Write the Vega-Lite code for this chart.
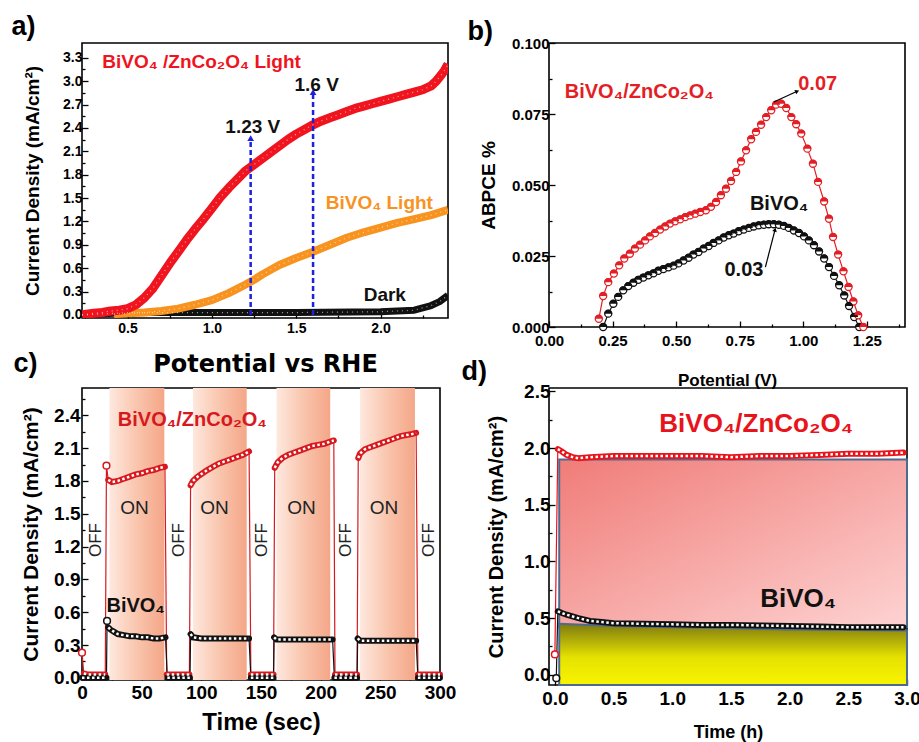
{
"$schema":"https://vega.github.io/schema/vega-lite/v6.json",
"padding":{"left":10,"top":12,"right":5,"bottom":5},
"background":"white",
"config":{
 "view":{"stroke":"black","strokeWidth":1.6},
 "font":"Liberation Sans",
 "axis":{"domain":false,"grid":false,"labelFont":"Liberation Sans","labelFontWeight":"bold","labelColor":"black","titleFont":"Liberation Sans","titleFontWeight":"bold","titleColor":"black","tickColor":"black","tickWidth":1.3,"labelFlush":false,"labelOverlap":false,"labelBound":false},
 "title":{"fontSize":27,"fontWeight":"bold","anchor":"start","frame":"bounds","color":"black","font":"Liberation Sans"}
},
"columns":2,
"spacing":{"row":61,"column":101},
"bounds":"flush",
"resolve":{"scale":{"color":"independent","stroke":"independent","strokeWidth":"independent"}},
"concat":[
{
"width":366,"height":275,
"title":{"text":"a)","offset":2,"dx":-12},
"layer":[
 {"data":{"name":"aCurves"},"mark":{"type":"line","clip":true,"strokeCap":"butt","strokeJoin":"round"},
  "encoding":{
   "x":{"field":"x","type":"quantitative","scale":{"domain":[0.23,2.4],"nice":false,"zero":false},
     "axis":{"title":"Potential vs RHE","titleFont":"DejaVu Sans","titleFontSize":24,"titlePadding":14,"labelFontSize":14,"labelPadding":9,"labelOverlap":false,"tickCount":100,
       "values":[0.25,0.5,0.75,1,1.25,1.5,1.75,2,2.25],
       "labelExpr":"round(datum.value*100)%50==0 ? format(datum.value,'.1f') : ''",
       "tickSize":{"condition":{"test":"round(datum.value*100)%50==0","value":-6},"value":-3}}},
   "y":{"field":"y","type":"quantitative","scale":{"domain":[-0.04,3.49],"nice":false,"zero":false},
     "axis":{"title":"Current Density (mA/cm²)","titleFontSize":19,"titlePadding":20,"labelFontSize":14,"labelPadding":6,"labelOverlap":false,"tickCount":100,
       "values":[0,0.15,0.3,0.45,0.6,0.75,0.9,1.05,1.2,1.35,1.5,1.65,1.8,1.95,2.1,2.25,2.4,2.55,2.7,2.85,3,3.15,3.3],
       "labelExpr":"abs(datum.value/0.3 - round(datum.value/0.3)) < 0.01 ? format(datum.value,'.1f') : ''",
       "tickSize":{"condition":{"test":"abs(datum.value/0.3 - round(datum.value/0.3)) < 0.01","value":-6},"value":-3}}},
   "color":{"field":"s","type":"nominal","scale":{"domain":["hetero","bivo","dark","ann"],"range":["#f0141e","#f7931e","#111111","#111111"]},"legend":null},
   "strokeWidth":{"field":"s","type":"nominal","scale":{"domain":["hetero","bivo","dark"],"range":[9,7,6]},"legend":null}
  }},
 {"data":{"name":"aCurves"},"mark":{"type":"line","clip":true,"color":"white","strokeWidth":1.2,"strokeDash":[1,4],"opacity":0.6},
  "encoding":{"x":{"field":"x","type":"quantitative"},"y":{"field":"y","type":"quantitative"},"detail":{"field":"s"}}},
 {"data":{"name":"aArrows"},"mark":{"type":"rule","color":"#1f1fe0","strokeWidth":2.5,"strokeDash":[5,3]},
  "encoding":{"x":{"field":"x","type":"quantitative"},"y":{"field":"y","type":"quantitative"},"y2":{"field":"y2"}}},
 {"data":{"name":"aArrows"},"mark":{"type":"point","shape":"triangle-up","filled":true,"color":"#1f1fe0","size":45,"opacity":1},
  "encoding":{"x":{"field":"x","type":"quantitative"},"y":{"field":"y2","type":"quantitative"}}},
 {"data":{"name":"aText"},"mark":{"type":"text","align":"left","baseline":"middle","fontSize":19,"fontWeight":"bold"},
  "encoding":{"x":{"field":"x","type":"quantitative"},"y":{"field":"y","type":"quantitative"},"text":{"field":"t"},"color":{"field":"s","type":"nominal"}}}
]
},
{
"width":356,"height":284,
"title":{"text":"b)","offset":-10,"dx":-12},
"layer":[
 {"data":{"name":"bCurves"},"mark":{"type":"line","strokeWidth":1.2},
  "encoding":{
   "x":{"field":"x","type":"quantitative","scale":{"domain":[0,1.4],"nice":false,"zero":false},
     "axis":{"title":"Potential (V)","titleFontSize":17,"titlePadding":21,"labelFontSize":15,"labelPadding":12,"labelOverlap":false,"tickCount":100,
       "values":[0,0.125,0.25,0.375,0.5,0.625,0.75,0.875,1,1.125,1.25,1.375],
       "labelExpr":"round(datum.value*1000)%250==0 ? format(datum.value,'.2f') : ''",
       "tickSize":{"condition":{"test":"round(datum.value*1000)%250==0","value":-6},"value":-3}}},
   "y":{"field":"y","type":"quantitative","scale":{"domain":[0,0.1],"nice":false,"zero":false},
     "axis":{"title":"ABPCE %","titleFontSize":19,"titlePadding":13,"labelFontSize":15,"labelPadding":6,"labelOverlap":false,"tickCount":100,
       "values":[0,0.0125,0.025,0.0375,0.05,0.0625,0.075,0.0875,0.1],
       "labelExpr":"round(datum.value*10000)%250==0 ? format(datum.value,'.3f') : ''",
       "tickSize":{"condition":{"test":"round(datum.value*10000)%250==0","value":-6},"value":-3}}},
   "color":{"field":"s","type":"nominal","scale":{"domain":["hetero","bivo"],"range":["#e31e24","#111111"]},"legend":null}
  }},
 {"data":{"name":"bCurves"},"mark":{"type":"point","shape":"circle","filled":true,"fill":"white","size":50,"strokeWidth":1.3,"opacity":1},
  "encoding":{"x":{"field":"x","type":"quantitative"},"y":{"field":"y","type":"quantitative"},
   "stroke":{"field":"s","type":"nominal","scale":{"domain":["hetero","bivo"],"range":["#e31e24","#111111"]},"legend":null}}},
 {"data":{"name":"bCurves"},"mark":{"type":"point","shape":"M -1.13 0 A 1.13 1.13 0 0 1 1.13 0 Z","filled":true,"size":50,"opacity":1},
  "encoding":{"x":{"field":"x","type":"quantitative"},"y":{"field":"y","type":"quantitative"},"color":{"field":"s","type":"nominal"}}},
 {"data":{"name":"bArrows"},"mark":{"type":"rule","color":"black","strokeWidth":1.2},
  "encoding":{"x":{"field":"x","type":"quantitative"},"y":{"field":"y","type":"quantitative"},"x2":{"field":"x2"},"y2":{"field":"y2"}}},
 {"data":{"name":"bArrows"},"transform":[{"filter":"datum.lab=='0.07'"}],"mark":{"type":"point","shape":"triangle-up","filled":true,"color":"black","size":22,"angle":67,"opacity":1},
  "encoding":{"x":{"field":"x2","type":"quantitative"},"y":{"field":"y2","type":"quantitative"}}},
 {"data":{"name":"bArrows"},"transform":[{"filter":"datum.lab=='0.03'"}],"mark":{"type":"point","shape":"triangle-up","filled":true,"color":"black","size":22,"angle":15,"opacity":1},
  "encoding":{"x":{"field":"x2","type":"quantitative"},"y":{"field":"y2","type":"quantitative"}}},
 {"data":{"name":"bText"},"mark":{"type":"text","align":"left","baseline":"middle","fontSize":20,"fontWeight":"bold"},
  "encoding":{"x":{"field":"x","type":"quantitative"},"y":{"field":"y","type":"quantitative"},"text":{"field":"t"},"color":{"field":"s","type":"nominal"}}}
]
},
{
"width":358,"height":292,
"title":{"text":"c)","offset":10,"dx":-7},
"layer":[
 {"data":{"name":"cOn"},"mark":{"type":"rect","fill":{"gradient":"linear","x1":0,"y1":0,"x2":1,"y2":0,"stops":[{"offset":0,"color":"#fee8de"},{"offset":0.5,"color":"#f9c5ad"},{"offset":1,"color":"#f4a688"}]}},
  "encoding":{"x":{"field":"t0","type":"quantitative","scale":{"domain":[0,300],"nice":false,"zero":false},
     "axis":{"title":"Time (sec)","titleFontSize":24,"titlePadding":5,"labelFontSize":19,"labelPadding":9,"labelOverlap":false,"tickCount":100,
       "values":[0,25,50,75,100,125,150,175,200,225,250,275,300],
       "labelExpr":"datum.value%50==0 ? format(datum.value,'d') : ''",
       "tickSize":{"condition":{"test":"datum.value%50==0","value":-6},"value":-3}}},
   "x2":{"field":"t1"}}},
 {"data":{"name":"cCurves"},"mark":{"type":"line","strokeWidth":1.2},
  "encoding":{"x":{"field":"t","type":"quantitative"},
   "y":{"field":"y","type":"quantitative","scale":{"domain":[-0.02,2.65],"nice":false,"zero":false},
     "axis":{"title":"Current Density (mA/cm²)","titleFontSize":21,"titlePadding":12,"labelFontSize":19,"labelPadding":8,"labelOverlap":false,"tickCount":100,
       "values":[0,0.15,0.3,0.45,0.6,0.75,0.9,1.05,1.2,1.35,1.5,1.65,1.8,1.95,2.1,2.25,2.4,2.55],
       "labelExpr":"abs(datum.value/0.3 - round(datum.value/0.3)) < 0.01 ? format(datum.value,'.1f') : ''",
       "tickSize":{"condition":{"test":"abs(datum.value/0.3 - round(datum.value/0.3)) < 0.01","value":-6},"value":-3}}},
   "color":{"field":"s","type":"nominal","scale":{"domain":["hetero","bivo"],"range":["#d7191f","#111111"]},"legend":null}}},
 {"data":{"name":"cCurves"},"mark":{"type":"line","strokeWidth":6,"strokeCap":"round"},
  "encoding":{"x":{"field":"t","type":"quantitative"},"y":{"field":"y","type":"quantitative"},"color":{"field":"s","type":"nominal"},"detail":{"field":"seg"}}},
 {"data":{"name":"cCurves"},"mark":{"type":"line","strokeWidth":2.5,"color":"white","strokeDash":[2.5,2.5]},
  "encoding":{"x":{"field":"t","type":"quantitative"},"y":{"field":"y","type":"quantitative"},"detail":[{"field":"s"},{"field":"seg"}]}},
 {"data":{"name":"cCurves"},"transform":[{"filter":"indexof(datum.seg,'x')==0"}],"mark":{"type":"point","shape":"circle","filled":true,"fill":"white","size":45,"strokeWidth":1.5,"opacity":1},
  "encoding":{"x":{"field":"t","type":"quantitative"},"y":{"field":"y","type":"quantitative"},"stroke":{"field":"s","type":"nominal","scale":{"domain":["hetero","bivo"],"range":["#d7191f","#111111"]},"legend":null}}},
 {"data":{"name":"cOnText"},"mark":{"type":"text","align":"center","baseline":"middle","fontSize":19,"color":"#222222"},
  "encoding":{"x":{"field":"x","type":"quantitative"},"y":{"field":"y","type":"quantitative"},"text":{"field":"t"}}},
 {"data":{"name":"cOffText"},"mark":{"type":"text","align":"center","baseline":"middle","fontSize":17,"angle":270,"color":"#222222"},
  "encoding":{"x":{"field":"x","type":"quantitative"},"y":{"field":"y","type":"quantitative"},"text":{"field":"t"}}},
 {"data":{"name":"cLab"},"mark":{"type":"text","align":"left","baseline":"middle","fontSize":20,"fontWeight":"bold"},
  "encoding":{"x":{"field":"x","type":"quantitative"},"y":{"field":"y","type":"quantitative"},"text":{"field":"t"},"color":{"field":"s","type":"nominal"}}}
]
},
{
"width":358,"height":297,
"title":{"text":"d)","offset":-4,"dx":-25},
"layer":[
 {"data":{"name":"dRect"},"mark":{"type":"rect","stroke":"#4d6a90","strokeWidth":2,"fill":{"gradient":"linear","x1":0,"y1":0,"x2":1,"y2":1,"stops":[{"offset":0,"color":"#f07c78"},{"offset":1,"color":"#fdd3d2"}]}},
  "encoding":{"x":{"field":"x","type":"quantitative","scale":{"domain":[-0.05,3.0],"nice":false,"zero":false},
     "axis":{"title":"Time (h)","titleFontSize":18,"titlePadding":12,"labelFontSize":19,"labelPadding":10,"labelOverlap":false,"tickCount":100,
       "values":[0,0.25,0.5,0.75,1,1.25,1.5,1.75,2,2.25,2.5,2.75,3],
       "labelExpr":"round(datum.value*100)%50==0 ? format(datum.value,'.1f') : ''",
       "tickSize":{"condition":{"test":"round(datum.value*100)%50==0","value":-6},"value":-3}}},
   "x2":{"field":"x2"},
   "y":{"field":"y","type":"quantitative","scale":{"domain":[-0.09,2.53],"nice":false,"zero":false},
     "axis":{"title":"Current Density (mA/cm²)","titleFontSize":20,"titlePadding":17,"labelFontSize":19,"labelPadding":5,"labelOverlap":false,"tickCount":100,
       "values":[0,0.25,0.5,0.75,1,1.25,1.5,1.75,2,2.25,2.5],
       "labelExpr":"round(datum.value*100)%50==0 ? format(datum.value,'.1f') : ''",
       "tickSize":{"condition":{"test":"round(datum.value*100)%50==0","value":-6},"value":-3}}},
   "y2":{"field":"y2"}}},
 {"data":{"name":"dYellow"},"mark":{"type":"area","stroke":"#4d6a90","strokeWidth":2,"fill":{"gradient":"linear","x1":0,"y1":0,"x2":0,"y2":1,"stops":[{"offset":0,"color":"#7f7a10"},{"offset":0.55,"color":"#e6e200"},{"offset":1,"color":"#f8f400"}]}},
  "encoding":{"x":{"field":"x","type":"quantitative"},"y":{"field":"y","type":"quantitative"},"y2":{"datum":-0.09}}},
 {"data":{"name":"dCurves"},"mark":{"type":"line","strokeWidth":1.2},
  "encoding":{"x":{"field":"x","type":"quantitative"},"y":{"field":"y","type":"quantitative"},
   "color":{"field":"s","type":"nominal","scale":{"domain":["hetero","bivo"],"range":["#e8141b","#111111"]},"legend":null}}},
 {"data":{"name":"dCurves"},"mark":{"type":"line","strokeWidth":6,"strokeCap":"round"},
  "encoding":{"x":{"field":"x","type":"quantitative"},"y":{"field":"y","type":"quantitative"},"color":{"field":"s","type":"nominal"},"detail":{"field":"seg"}}},
 {"data":{"name":"dCurves"},"mark":{"type":"line","strokeWidth":2.5,"color":"white","strokeDash":[2.5,2.5]},
  "encoding":{"x":{"field":"x","type":"quantitative"},"y":{"field":"y","type":"quantitative"},"detail":[{"field":"s"},{"field":"seg"}]}},
 {"data":{"name":"dCurves"},"transform":[{"filter":"datum.seg=='x'"}],"mark":{"type":"point","shape":"circle","filled":true,"fill":"white","size":45,"strokeWidth":1.5,"opacity":1},
  "encoding":{"x":{"field":"x","type":"quantitative"},"y":{"field":"y","type":"quantitative"},"stroke":{"field":"s","type":"nominal","scale":{"domain":["hetero","bivo"],"range":["#e8141b","#111111"]},"legend":null}}},
 {"data":{"name":"dLab"},"mark":{"type":"text","align":"left","baseline":"middle","fontSize":26,"fontWeight":"bold"},
  "encoding":{"x":{"field":"x","type":"quantitative"},"y":{"field":"y","type":"quantitative"},"text":{"field":"t"},"color":{"field":"s","type":"nominal"}}}
]
}
],
"datasets":{
"aCurves":[
{"x":0.23,"y":0.0,"s":"dark"},{"x":0.5,"y":0.03,"s":"dark"},{"x":1.0,"y":0.03,"s":"dark"},{"x":1.5,"y":0.03,"s":"dark"},{"x":2.0,"y":0.04,"s":"dark"},{"x":2.2,"y":0.06,"s":"dark"},{"x":2.3,"y":0.12,"s":"dark"},{"x":2.35,"y":0.17,"s":"dark"},{"x":2.4,"y":0.25,"s":"dark"},
{"x":0.42,"y":0.01,"s":"bivo"},{"x":0.5,"y":0.02,"s":"bivo"},{"x":0.6,"y":0.03,"s":"bivo"},{"x":0.7,"y":0.05,"s":"bivo"},{"x":0.8,"y":0.08,"s":"bivo"},{"x":0.9,"y":0.13,"s":"bivo"},{"x":1.0,"y":0.19,"s":"bivo"},{"x":1.1,"y":0.28,"s":"bivo"},{"x":1.2,"y":0.39,"s":"bivo"},{"x":1.25,"y":0.45,"s":"bivo"},{"x":1.3,"y":0.52,"s":"bivo"},{"x":1.4,"y":0.64,"s":"bivo"},{"x":1.5,"y":0.73,"s":"bivo"},{"x":1.6,"y":0.81,"s":"bivo"},{"x":1.7,"y":0.9,"s":"bivo"},{"x":1.8,"y":0.99,"s":"bivo"},{"x":1.9,"y":1.06,"s":"bivo"},{"x":2.0,"y":1.12,"s":"bivo"},{"x":2.1,"y":1.18,"s":"bivo"},{"x":2.2,"y":1.23,"s":"bivo"},{"x":2.3,"y":1.28,"s":"bivo"},{"x":2.4,"y":1.35,"s":"bivo"},
{"x":0.23,"y":0.0,"s":"hetero"},{"x":0.3,"y":0.02,"s":"hetero"},{"x":0.35,"y":0.03,"s":"hetero"},{"x":0.4,"y":0.05,"s":"hetero"},{"x":0.45,"y":0.06,"s":"hetero"},{"x":0.5,"y":0.08,"s":"hetero"},{"x":0.55,"y":0.13,"s":"hetero"},{"x":0.6,"y":0.22,"s":"hetero"},{"x":0.65,"y":0.34,"s":"hetero"},{"x":0.7,"y":0.5,"s":"hetero"},{"x":0.75,"y":0.66,"s":"hetero"},{"x":0.8,"y":0.81,"s":"hetero"},{"x":0.85,"y":0.96,"s":"hetero"},{"x":0.9,"y":1.1,"s":"hetero"},{"x":0.95,"y":1.23,"s":"hetero"},{"x":1.0,"y":1.37,"s":"hetero"},{"x":1.05,"y":1.51,"s":"hetero"},{"x":1.1,"y":1.63,"s":"hetero"},{"x":1.15,"y":1.74,"s":"hetero"},{"x":1.2,"y":1.85,"s":"hetero"},{"x":1.25,"y":1.93,"s":"hetero"},{"x":1.3,"y":2.01,"s":"hetero"},{"x":1.35,"y":2.09,"s":"hetero"},{"x":1.4,"y":2.17,"s":"hetero"},{"x":1.45,"y":2.25,"s":"hetero"},{"x":1.5,"y":2.32,"s":"hetero"},{"x":1.55,"y":2.38,"s":"hetero"},{"x":1.6,"y":2.44,"s":"hetero"},{"x":1.65,"y":2.49,"s":"hetero"},{"x":1.7,"y":2.53,"s":"hetero"},{"x":1.75,"y":2.57,"s":"hetero"},{"x":1.8,"y":2.61,"s":"hetero"},{"x":1.85,"y":2.65,"s":"hetero"},{"x":1.9,"y":2.68,"s":"hetero"},{"x":1.95,"y":2.71,"s":"hetero"},{"x":2.0,"y":2.74,"s":"hetero"},{"x":2.05,"y":2.77,"s":"hetero"},{"x":2.1,"y":2.8,"s":"hetero"},{"x":2.15,"y":2.83,"s":"hetero"},{"x":2.2,"y":2.86,"s":"hetero"},{"x":2.25,"y":2.89,"s":"hetero"},{"x":2.3,"y":2.94,"s":"hetero"},{"x":2.33,"y":3.0,"s":"hetero"},{"x":2.36,"y":3.08,"s":"hetero"},{"x":2.38,"y":3.14,"s":"hetero"},{"x":2.4,"y":3.22,"s":"hetero"}
],
"aArrows":[{"x":1.23,"y":0,"y2":2.27},{"x":1.6,"y":0,"y2":2.86}],
"aText":[
{"x":0.35,"y":3.25,"t":"BiVO₄ /ZnCo₂O₄ Light","s":"hetero"},
{"x":1.675,"y":1.44,"t":"BiVO₄ Light","s":"bivo"},
{"x":1.9,"y":0.25,"t":"Dark","s":"dark"},
{"x":1.08,"y":2.41,"t":"1.23 V","s":"ann"},
{"x":1.49,"y":2.95,"t":"1.6 V","s":"ann"}
],
"bCurves":[
{"x":0.213,"y":0.0,"s":"bivo"},{"x":0.233,"y":0.0047,"s":"bivo"},{"x":0.253,"y":0.0082,"s":"bivo"},{"x":0.272,"y":0.0106,"s":"bivo"},{"x":0.292,"y":0.0129,"s":"bivo"},{"x":0.312,"y":0.0144,"s":"bivo"},{"x":0.332,"y":0.0156,"s":"bivo"},{"x":0.351,"y":0.0166,"s":"bivo"},{"x":0.371,"y":0.0174,"s":"bivo"},{"x":0.391,"y":0.0182,"s":"bivo"},{"x":0.411,"y":0.0189,"s":"bivo"},{"x":0.43,"y":0.0198,"s":"bivo"},{"x":0.45,"y":0.0204,"s":"bivo"},{"x":0.47,"y":0.021,"s":"bivo"},{"x":0.49,"y":0.0216,"s":"bivo"},{"x":0.509,"y":0.0224,"s":"bivo"},{"x":0.529,"y":0.0234,"s":"bivo"},{"x":0.549,"y":0.0244,"s":"bivo"},{"x":0.568,"y":0.0255,"s":"bivo"},{"x":0.588,"y":0.0264,"s":"bivo"},{"x":0.608,"y":0.0276,"s":"bivo"},{"x":0.628,"y":0.0285,"s":"bivo"},{"x":0.647,"y":0.0296,"s":"bivo"},{"x":0.667,"y":0.0305,"s":"bivo"},{"x":0.687,"y":0.0315,"s":"bivo"},{"x":0.707,"y":0.0323,"s":"bivo"},{"x":0.726,"y":0.0329,"s":"bivo"},{"x":0.746,"y":0.0337,"s":"bivo"},{"x":0.766,"y":0.0343,"s":"bivo"},{"x":0.786,"y":0.0349,"s":"bivo"},{"x":0.805,"y":0.0354,"s":"bivo"},{"x":0.825,"y":0.0358,"s":"bivo"},{"x":0.845,"y":0.036,"s":"bivo"},{"x":0.864,"y":0.0362,"s":"bivo"},{"x":0.884,"y":0.0362,"s":"bivo"},{"x":0.904,"y":0.036,"s":"bivo"},{"x":0.924,"y":0.0356,"s":"bivo"},{"x":0.943,"y":0.0349,"s":"bivo"},{"x":0.963,"y":0.034,"s":"bivo"},{"x":0.983,"y":0.0331,"s":"bivo"},{"x":1.003,"y":0.0319,"s":"bivo"},{"x":1.022,"y":0.0305,"s":"bivo"},{"x":1.042,"y":0.0288,"s":"bivo"},{"x":1.062,"y":0.0266,"s":"bivo"},{"x":1.082,"y":0.0241,"s":"bivo"},{"x":1.101,"y":0.0211,"s":"bivo"},{"x":1.121,"y":0.018,"s":"bivo"},{"x":1.141,"y":0.0147,"s":"bivo"},{"x":1.161,"y":0.0111,"s":"bivo"},{"x":1.18,"y":0.0074,"s":"bivo"},{"x":1.2,"y":0.0035,"s":"bivo"},{"x":1.22,"y":0.0,"s":"bivo"},
{"x":0.196,"y":0.0029,"s":"hetero"},{"x":0.213,"y":0.0109,"s":"hetero"},{"x":0.233,"y":0.0158,"s":"hetero"},{"x":0.255,"y":0.0188,"s":"hetero"},{"x":0.276,"y":0.0217,"s":"hetero"},{"x":0.296,"y":0.0241,"s":"hetero"},{"x":0.318,"y":0.0258,"s":"hetero"},{"x":0.338,"y":0.0276,"s":"hetero"},{"x":0.358,"y":0.029,"s":"hetero"},{"x":0.378,"y":0.0305,"s":"hetero"},{"x":0.397,"y":0.0319,"s":"hetero"},{"x":0.417,"y":0.0331,"s":"hetero"},{"x":0.437,"y":0.0343,"s":"hetero"},{"x":0.457,"y":0.0354,"s":"hetero"},{"x":0.476,"y":0.0364,"s":"hetero"},{"x":0.496,"y":0.0372,"s":"hetero"},{"x":0.516,"y":0.0379,"s":"hetero"},{"x":0.536,"y":0.0387,"s":"hetero"},{"x":0.555,"y":0.0393,"s":"hetero"},{"x":0.575,"y":0.0399,"s":"hetero"},{"x":0.595,"y":0.0405,"s":"hetero"},{"x":0.617,"y":0.0411,"s":"hetero"},{"x":0.637,"y":0.0423,"s":"hetero"},{"x":0.657,"y":0.044,"s":"hetero"},{"x":0.676,"y":0.0464,"s":"hetero"},{"x":0.696,"y":0.0487,"s":"hetero"},{"x":0.716,"y":0.0514,"s":"hetero"},{"x":0.736,"y":0.0546,"s":"hetero"},{"x":0.755,"y":0.0583,"s":"hetero"},{"x":0.775,"y":0.0622,"s":"hetero"},{"x":0.795,"y":0.0661,"s":"hetero"},{"x":0.814,"y":0.0687,"s":"hetero"},{"x":0.834,"y":0.0712,"s":"hetero"},{"x":0.854,"y":0.0739,"s":"hetero"},{"x":0.874,"y":0.0763,"s":"hetero"},{"x":0.893,"y":0.0783,"s":"hetero"},{"x":0.913,"y":0.0786,"s":"hetero"},{"x":0.933,"y":0.0771,"s":"hetero"},{"x":0.953,"y":0.0739,"s":"hetero"},{"x":0.972,"y":0.0714,"s":"hetero"},{"x":0.992,"y":0.0681,"s":"hetero"},{"x":1.016,"y":0.0628,"s":"hetero"},{"x":1.038,"y":0.0575,"s":"hetero"},{"x":1.058,"y":0.0511,"s":"hetero"},{"x":1.082,"y":0.0442,"s":"hetero"},{"x":1.101,"y":0.0381,"s":"hetero"},{"x":1.117,"y":0.0317,"s":"hetero"},{"x":1.137,"y":0.0255,"s":"hetero"},{"x":1.158,"y":0.0196,"s":"hetero"},{"x":1.178,"y":0.0141,"s":"hetero"},{"x":1.197,"y":0.009,"s":"hetero"},{"x":1.216,"y":0.0041,"s":"hetero"},{"x":1.236,"y":0.0,"s":"hetero"}
],
"bArrows":[{"x":0.884,"y":0.0792,"x2":0.976,"y2":0.083,"lab":"0.07"},{"x":0.851,"y":0.0211,"x2":0.889,"y2":0.0343,"lab":"0.03"}],
"bText":[
{"x":0.062,"y":0.0827,"t":"BiVO₄/ZnCo₂O₄","s":"hetero"},
{"x":0.98,"y":0.0857,"t":"0.07","s":"hetero"},
{"x":0.79,"y":0.0434,"t":"BiVO₄","s":"bivo"},
{"x":0.69,"y":0.02,"t":"0.03","s":"bivo"}
],
"cOn":[{"t0":23,"t1":69},{"t0":93,"t1":138},{"t0":163,"t1":208},{"t0":233,"t1":279}],
"cCurves":[
{"t":0,"y":0.23,"s":"hetero","seg":"x0"},{"t":1.5,"y":0.04,"s":"hetero","seg":"f0"},{"t":5,"y":0.03,"s":"hetero","seg":"f0"},{"t":10,"y":0.03,"s":"hetero","seg":"f0"},{"t":15,"y":0.03,"s":"hetero","seg":"f0"},{"t":19.5,"y":0.03,"s":"hetero","seg":"f0"},
{"t":20.5,"y":1.94,"s":"hetero","seg":"x1"},
{"t":22,"y":1.81,"s":"hetero","seg":"n1"},{"t":25,"y":1.79,"s":"hetero","seg":"n1"},{"t":30,"y":1.8,"s":"hetero","seg":"n1"},{"t":35,"y":1.82,"s":"hetero","seg":"n1"},{"t":40,"y":1.84,"s":"hetero","seg":"n1"},{"t":45,"y":1.86,"s":"hetero","seg":"n1"},{"t":50,"y":1.87,"s":"hetero","seg":"n1"},{"t":55,"y":1.89,"s":"hetero","seg":"n1"},{"t":60,"y":1.9,"s":"hetero","seg":"n1"},{"t":65,"y":1.92,"s":"hetero","seg":"n1"},{"t":69.5,"y":1.93,"s":"hetero","seg":"n1"},
{"t":71,"y":0.03,"s":"hetero","seg":"f1"},{"t":75,"y":0.03,"s":"hetero","seg":"f1"},{"t":80,"y":0.03,"s":"hetero","seg":"f1"},{"t":85,"y":0.03,"s":"hetero","seg":"f1"},{"t":90,"y":0.03,"s":"hetero","seg":"f1"},
{"t":91,"y":1.76,"s":"hetero","seg":"n2"},{"t":93,"y":1.8,"s":"hetero","seg":"n2"},{"t":97,"y":1.84,"s":"hetero","seg":"n2"},{"t":101,"y":1.87,"s":"hetero","seg":"n2"},{"t":105,"y":1.9,"s":"hetero","seg":"n2"},{"t":110,"y":1.93,"s":"hetero","seg":"n2"},{"t":115,"y":1.96,"s":"hetero","seg":"n2"},{"t":120,"y":1.98,"s":"hetero","seg":"n2"},{"t":125,"y":2.0,"s":"hetero","seg":"n2"},{"t":130,"y":2.02,"s":"hetero","seg":"n2"},{"t":135,"y":2.04,"s":"hetero","seg":"n2"},{"t":140,"y":2.07,"s":"hetero","seg":"n2"},
{"t":141.5,"y":0.03,"s":"hetero","seg":"f2"},{"t":145,"y":0.03,"s":"hetero","seg":"f2"},{"t":150,"y":0.03,"s":"hetero","seg":"f2"},{"t":155,"y":0.03,"s":"hetero","seg":"f2"},{"t":160.5,"y":0.03,"s":"hetero","seg":"f2"},
{"t":161.5,"y":1.92,"s":"hetero","seg":"n3"},{"t":164,"y":1.97,"s":"hetero","seg":"n3"},{"t":168,"y":2.01,"s":"hetero","seg":"n3"},{"t":173,"y":2.04,"s":"hetero","seg":"n3"},{"t":178,"y":2.06,"s":"hetero","seg":"n3"},{"t":183,"y":2.08,"s":"hetero","seg":"n3"},{"t":188,"y":2.1,"s":"hetero","seg":"n3"},{"t":193,"y":2.12,"s":"hetero","seg":"n3"},{"t":198,"y":2.13,"s":"hetero","seg":"n3"},{"t":203,"y":2.14,"s":"hetero","seg":"n3"},{"t":208,"y":2.16,"s":"hetero","seg":"n3"},{"t":211,"y":2.17,"s":"hetero","seg":"n3"},
{"t":212,"y":0.03,"s":"hetero","seg":"f3"},{"t":216,"y":0.03,"s":"hetero","seg":"f3"},{"t":220,"y":0.03,"s":"hetero","seg":"f3"},{"t":225,"y":0.03,"s":"hetero","seg":"f3"},{"t":230.5,"y":0.03,"s":"hetero","seg":"f3"},
{"t":231.5,"y":2.01,"s":"hetero","seg":"n4"},{"t":233,"y":2.05,"s":"hetero","seg":"n4"},{"t":237,"y":2.09,"s":"hetero","seg":"n4"},{"t":242,"y":2.11,"s":"hetero","seg":"n4"},{"t":247,"y":2.13,"s":"hetero","seg":"n4"},{"t":252,"y":2.15,"s":"hetero","seg":"n4"},{"t":257,"y":2.17,"s":"hetero","seg":"n4"},{"t":262,"y":2.19,"s":"hetero","seg":"n4"},{"t":267,"y":2.21,"s":"hetero","seg":"n4"},{"t":272,"y":2.22,"s":"hetero","seg":"n4"},{"t":277,"y":2.23,"s":"hetero","seg":"n4"},{"t":280,"y":2.24,"s":"hetero","seg":"n4"},
{"t":281.5,"y":0.03,"s":"hetero","seg":"f4"},{"t":285,"y":0.03,"s":"hetero","seg":"f4"},{"t":290,"y":0.03,"s":"hetero","seg":"f4"},{"t":295,"y":0.03,"s":"hetero","seg":"f4"},{"t":300,"y":0.03,"s":"hetero","seg":"f4"},
{"t":0,"y":0.0,"s":"bivo","seg":"f0"},{"t":10,"y":0.0,"s":"bivo","seg":"f0"},{"t":20.5,"y":0.0,"s":"bivo","seg":"f0"},
{"t":21,"y":0.52,"s":"bivo","seg":"x1"},{"t":22,"y":0.46,"s":"bivo","seg":"n1"},{"t":24,"y":0.44,"s":"bivo","seg":"n1"},{"t":27,"y":0.42,"s":"bivo","seg":"n1"},{"t":30,"y":0.4,"s":"bivo","seg":"n1"},{"t":35,"y":0.39,"s":"bivo","seg":"n1"},{"t":40,"y":0.38,"s":"bivo","seg":"n1"},{"t":45,"y":0.38,"s":"bivo","seg":"n1"},{"t":50,"y":0.37,"s":"bivo","seg":"n1"},{"t":55,"y":0.37,"s":"bivo","seg":"n1"},{"t":60,"y":0.36,"s":"bivo","seg":"n1"},{"t":65,"y":0.36,"s":"bivo","seg":"n1"},{"t":70,"y":0.37,"s":"bivo","seg":"n1"},
{"t":71.5,"y":0.0,"s":"bivo","seg":"f1"},{"t":80,"y":0.0,"s":"bivo","seg":"f1"},{"t":90.5,"y":0.0,"s":"bivo","seg":"f1"},
{"t":91,"y":0.4,"s":"bivo","seg":"n2"},{"t":93,"y":0.37,"s":"bivo","seg":"n2"},{"t":100,"y":0.36,"s":"bivo","seg":"n2"},{"t":110,"y":0.36,"s":"bivo","seg":"n2"},{"t":120,"y":0.36,"s":"bivo","seg":"n2"},{"t":130,"y":0.36,"s":"bivo","seg":"n2"},{"t":140,"y":0.36,"s":"bivo","seg":"n2"},
{"t":141.5,"y":0.0,"s":"bivo","seg":"f2"},{"t":150,"y":0.0,"s":"bivo","seg":"f2"},{"t":160.5,"y":0.0,"s":"bivo","seg":"f2"},
{"t":161,"y":0.37,"s":"bivo","seg":"n3"},{"t":163,"y":0.35,"s":"bivo","seg":"n3"},{"t":170,"y":0.35,"s":"bivo","seg":"n3"},{"t":180,"y":0.35,"s":"bivo","seg":"n3"},{"t":190,"y":0.35,"s":"bivo","seg":"n3"},{"t":200,"y":0.35,"s":"bivo","seg":"n3"},{"t":210,"y":0.35,"s":"bivo","seg":"n3"},
{"t":211.5,"y":0.0,"s":"bivo","seg":"f3"},{"t":220,"y":0.0,"s":"bivo","seg":"f3"},{"t":230.5,"y":0.0,"s":"bivo","seg":"f3"},
{"t":231,"y":0.36,"s":"bivo","seg":"n4"},{"t":233,"y":0.34,"s":"bivo","seg":"n4"},{"t":240,"y":0.34,"s":"bivo","seg":"n4"},{"t":250,"y":0.34,"s":"bivo","seg":"n4"},{"t":260,"y":0.34,"s":"bivo","seg":"n4"},{"t":270,"y":0.34,"s":"bivo","seg":"n4"},{"t":280,"y":0.34,"s":"bivo","seg":"n4"},
{"t":281.5,"y":0.0,"s":"bivo","seg":"f4"},{"t":290,"y":0.0,"s":"bivo","seg":"f4"},{"t":300,"y":0.0,"s":"bivo","seg":"f4"}
],
"cOnText":[{"x":44,"y":1.55,"t":"ON"},{"x":111,"y":1.55,"t":"ON"},{"x":184,"y":1.55,"t":"ON"},{"x":253,"y":1.55,"t":"ON"}],
"cOffText":[{"x":11.5,"y":1.26,"t":"OFF"},{"x":81,"y":1.26,"t":"OFF"},{"x":150.5,"y":1.26,"t":"OFF"},{"x":221,"y":1.26,"t":"OFF"},{"x":291,"y":1.26,"t":"OFF"}],
"cLab":[{"x":30,"y":2.36,"t":"BiVO₄/ZnCo₂O₄","s":"hetero"},{"x":20.5,"y":0.66,"t":"BiVO₄","s":"bivo"}],
"dRect":[{"x":0.037,"x2":3.0,"y":0.42,"y2":1.9}],
"dYellow":[{"x":0.037,"y":0.45},{"x":0.5,"y":0.43},{"x":1.0,"y":0.42},{"x":1.5,"y":0.41},{"x":2.0,"y":0.4},{"x":2.5,"y":0.395},{"x":3.0,"y":0.39}],
"dCurves":[
{"x":0.0,"y":0.18,"s":"hetero","seg":"x"},{"x":0.025,"y":1.99,"s":"hetero","seg":"m"},{"x":0.06,"y":1.97,"s":"hetero","seg":"m"},{"x":0.1,"y":1.94,"s":"hetero","seg":"m"},{"x":0.15,"y":1.92,"s":"hetero","seg":"m"},{"x":0.2,"y":1.91,"s":"hetero","seg":"m"},{"x":0.3,"y":1.92,"s":"hetero","seg":"m"},{"x":0.5,"y":1.93,"s":"hetero","seg":"m"},{"x":0.75,"y":1.93,"s":"hetero","seg":"m"},{"x":1.0,"y":1.93,"s":"hetero","seg":"m"},{"x":1.25,"y":1.93,"s":"hetero","seg":"m"},{"x":1.5,"y":1.92,"s":"hetero","seg":"m"},{"x":1.75,"y":1.93,"s":"hetero","seg":"m"},{"x":2.0,"y":1.93,"s":"hetero","seg":"m"},{"x":2.25,"y":1.94,"s":"hetero","seg":"m"},{"x":2.5,"y":1.95,"s":"hetero","seg":"m"},{"x":2.75,"y":1.95,"s":"hetero","seg":"m"},{"x":2.97,"y":1.96,"s":"hetero","seg":"m"},
{"x":0.012,"y":-0.03,"s":"bivo","seg":"x"},{"x":0.025,"y":0.56,"s":"bivo","seg":"m"},{"x":0.06,"y":0.545,"s":"bivo","seg":"m"},{"x":0.1,"y":0.53,"s":"bivo","seg":"m"},{"x":0.2,"y":0.5,"s":"bivo","seg":"m"},{"x":0.3,"y":0.475,"s":"bivo","seg":"m"},{"x":0.4,"y":0.465,"s":"bivo","seg":"m"},{"x":0.5,"y":0.455,"s":"bivo","seg":"m"},{"x":0.75,"y":0.45,"s":"bivo","seg":"m"},{"x":1.0,"y":0.445,"s":"bivo","seg":"m"},{"x":1.25,"y":0.44,"s":"bivo","seg":"m"},{"x":1.5,"y":0.44,"s":"bivo","seg":"m"},{"x":1.75,"y":0.435,"s":"bivo","seg":"m"},{"x":2.0,"y":0.43,"s":"bivo","seg":"m"},{"x":2.25,"y":0.425,"s":"bivo","seg":"m"},{"x":2.5,"y":0.42,"s":"bivo","seg":"m"},{"x":2.75,"y":0.42,"s":"bivo","seg":"m"},{"x":2.97,"y":0.42,"s":"bivo","seg":"m"}
],
"dLab":[{"x":0.89,"y":2.21,"t":"BiVO₄/ZnCo₂O₄","s":"hetero"},{"x":1.75,"y":0.67,"t":"BiVO₄","s":"bivo"}]
}
}
